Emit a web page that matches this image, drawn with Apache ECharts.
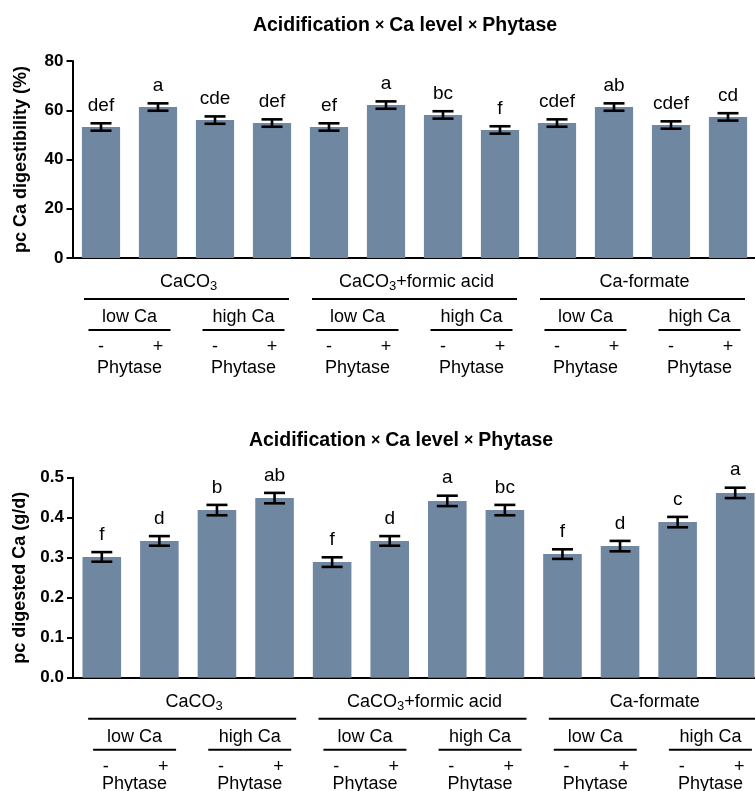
<!DOCTYPE html>
<html><head><meta charset="utf-8">
<script src="https://cdn.jsdelivr.net/npm/echarts@6/dist/echarts.min.js"></script>
<style>html,body{margin:0;padding:0;background:#fff}#c{width:755px;height:791px}</style>
</head><body><div id="c"></div>
<script>
// ---- data ----
const sources = ['CaCO3', 'CaCO3+formic acid', 'Ca-formate'];
const caLevels = ['low Ca', 'high Ca'];
const phytaseLevels = ['-', '+'];
const phytaseLabel = 'Phytase';
const categories = [
  'CaCO3 low Ca -', 'CaCO3 low Ca +', 'CaCO3 high Ca -', 'CaCO3 high Ca +',
  'CaCO3+FA low Ca -', 'CaCO3+FA low Ca +', 'CaCO3+FA high Ca -', 'CaCO3+FA high Ca +',
  'Ca-formate low Ca -', 'Ca-formate low Ca +', 'Ca-formate high Ca -', 'Ca-formate high Ca +'
];
const digestibility = [53.2, 61.3, 56.0, 54.8, 53.2, 62.1, 58.1, 52.0, 54.8, 61.3, 54.0, 57.3];
const digestibilitySE = [1.5, 1.5, 1.5, 1.5, 1.5, 1.5, 1.5, 1.5, 1.5, 1.5, 1.5, 1.5];
const digestibilityLetters = ['def', 'a', 'cde', 'def', 'ef', 'a', 'bc', 'f', 'cdef', 'ab', 'cdef', 'cd'];
const digestedCa = [0.302, 0.342, 0.419, 0.449, 0.289, 0.342, 0.442, 0.419, 0.309, 0.329, 0.389, 0.462];
const digestedCaSE = [0.012, 0.012, 0.013, 0.013, 0.012, 0.012, 0.013, 0.013, 0.012, 0.013, 0.013, 0.013];
const digestedCaLetters = ['f', 'd', 'b', 'ab', 'f', 'd', 'a', 'bc', 'f', 'd', 'c', 'a'];
const topTicks = { min: 0, max: 80, interval: 20 };
const bottomTicks = { min: 0, max: 0.5, interval: 0.1 };
const titleText = ['Acidification', 'Ca level', 'Phytase'];
const yNames = ['pc Ca digestibility (%)', 'pc digested Ca (g/d)'];

// ---- chart ----
const FONT = '"Liberation Sans", Arial, Helvetica, sans-serif';
const BAR = '#7087a2';
const chart = echarts.init(document.getElementById('c'), null, { renderer: 'canvas' });

function titleRich() {
  return titleText.map(t => '{b|' + t + '}').join(' {x|\u00d7} ');
}
const TITLE_RICH = {
  b: { fontFamily: FONT, fontWeight: 'bold', fontSize: 19.5, color: '#000' },
  x: { fontFamily: FONT, fontSize: 16, color: '#000' }
};

function yAxis(gi, ticks, fmt) {
  return {
    gridIndex: gi, type: 'value', min: ticks.min, max: ticks.max, interval: ticks.interval,
    name: yNames[gi], nameLocation: 'middle', nameGap: 42,
    nameTextStyle: { fontFamily: FONT, fontWeight: 'bold', fontSize: 18, color: '#000' },
    axisLine: { show: true, lineStyle: { color: '#000', width: 2 } },
    axisTick: { show: true, length: 6, lineStyle: { color: '#000', width: 2 } },
    axisLabel: { fontFamily: FONT, fontWeight: 'bold', fontSize: 17, color: '#000', margin: 9, formatter: fmt },
    splitLine: { show: false }
  };
}
function xAxis(gi) {
  return {
    gridIndex: gi, type: 'category', data: categories,
    axisLine: { show: true, lineStyle: { color: '#000', width: 2 } },
    axisTick: { show: false }, axisLabel: { show: false }, splitLine: { show: false }
  };
}
function barSeries(gi, vals) {
  return {
    type: 'bar', xAxisIndex: gi, yAxisIndex: gi, data: vals, barWidth: '67%',
    itemStyle: { color: BAR }, silent: true, animation: false
  };
}
function errSeries(gi, means, ses, letters) {
  return {
    type: 'custom', xAxisIndex: gi, yAxisIndex: gi, z: 10, animation: false, silent: true,
    data: means.map((m, i) => [i, m, ses[i]]),
    renderItem: function (params, api) {
      const i = api.value(0), m = api.value(1), e = api.value(2);
      const t = api.coord([i, m + e]), b = api.coord([i, m - e]);
      const h = 10.5;
      const ls = { stroke: '#000', lineWidth: 2.6 };
      return {
        type: 'group', children: [
          { type: 'line', shape: { x1: t[0], y1: t[1], x2: b[0], y2: b[1] }, style: ls },
          { type: 'line', shape: { x1: t[0] - h, y1: t[1], x2: t[0] + h, y2: t[1] }, style: ls },
          { type: 'line', shape: { x1: b[0] - h, y1: b[1], x2: b[0] + h, y2: b[1] }, style: ls },
          { type: 'text', x: t[0], y: t[1] - 8,
            style: { text: letters[i], fill: '#000', font: '19px ' + FONT, align: 'center', verticalAlign: 'bottom' } }
        ]
      };
    }
  };
}

chart.setOption({
  animation: false,
  backgroundColor: '#fff',
  title: [
    { text: titleRich(), left: 400, top: 11, textAlign: 'center', textStyle: { rich: TITLE_RICH } },
    { text: titleRich(), left: 396, top: 426, textAlign: 'center', textStyle: { rich: TITLE_RICH } }
  ],
  grid: [
    { left: 72.5, top: 61, width: 684, height: 197, outerBoundsMode: 'none', containLabel: false },
    { left: 73, top: 477.7, width: 691, height: 200, outerBoundsMode: 'none', containLabel: false }
  ],
  xAxis: [xAxis(0), xAxis(1)],
  yAxis: [yAxis(0, topTicks, v => String(v)), yAxis(1, bottomTicks, v => v.toFixed(1))],
  series: [
    barSeries(0, digestibility), errSeries(0, digestibility, digestibilitySE, digestibilityLetters),
    barSeries(1, digestedCa), errSeries(1, digestedCa, digestedCaSE, digestedCaLetters)
  ]
});

function richLabel(s) {
  return s.split(/(\d)/).filter(p => p !== '').map(p => /^\d$/.test(p) ? '{s|' + p + '}' : '{n|' + p + '}').join('');
}
const RICH = {
  n: { fontFamily: FONT, fontSize: 18, color: '#000', lineHeight: 22 },
  s: { fontFamily: FONT, fontSize: 13, color: '#000', lineHeight: 13, verticalAlign: 'bottom' }
};

function annotations(gi, o) {
  const els = [];
  const px = i => chart.convertToPixel({ xAxisIndex: gi }, i) + o.dx;
  const y0 = chart.convertToPixel({ yAxisIndex: gi }, 0);
  const line = (xa, xb, y) => ({ type: 'line', silent: true,
    shape: { x1: xa, y1: y, x2: xb, y2: y }, style: { stroke: '#000', lineWidth: 2 } });
  const txt = (x, y, text, rich) => ({ type: 'text', silent: true, x: x, y: y,
    style: rich ? { text: text, rich: RICH, align: 'center', verticalAlign: 'middle' }
                : { text: text, fill: '#000', font: '18px ' + FONT, align: 'center', verticalAlign: 'middle' } });
  sources.forEach((s, g) => {
    const c = (px(4 * g) + px(4 * g + 3)) / 2;
    els.push(txt(c + 2, y0 + 24, richLabel(s), true));
    els.push(line(c - o.gw / 2, c + o.gw / 2, y0 + 41));
    caLevels.forEach((lv, k) => {
      const p = 2 * g + k;
      const pc = (px(2 * p) + px(2 * p + 1)) / 2;
      els.push(txt(pc, y0 + 59, lv));
      els.push(line(pc - o.pw / 2, pc + o.pw / 2, y0 + 72));
      phytaseLevels.forEach((sg, j) => {
        els.push(txt(px(2 * p + j), y0 + 89, sg));
      });
      els.push(txt(pc, y0 + o.phy, phytaseLabel));
    });
  });
  return els;
}

chart.setOption({
  graphic: annotations(0, { dx: 0, gw: 205, pw: 82, phy: 110 })
    .concat(annotations(1, { dx: 4, gw: 208, pw: 83, phy: 106 }))
});
</script>
</body></html>
